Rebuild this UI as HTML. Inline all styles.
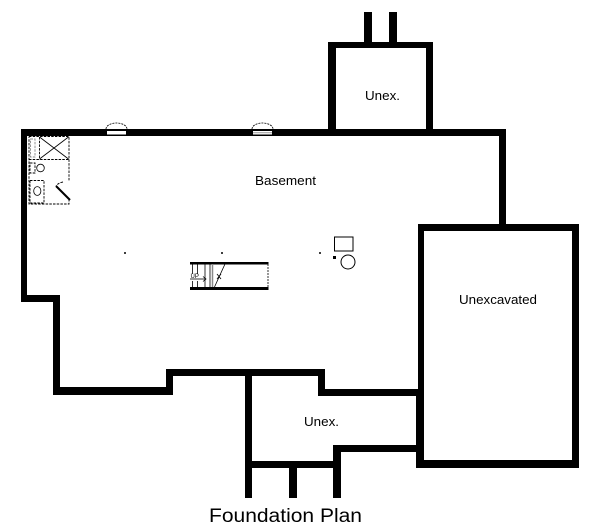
<!DOCTYPE html>
<html>
<head>
<meta charset="utf-8">
<style>
html,body{margin:0;padding:0;background:#fff;}
body{width:600px;height:530px;overflow:hidden;}
svg{display:block;}
text{font-family:"Liberation Sans",Arial,sans-serif;fill:#000;}
</style>
</head>
<body>
<svg width="600" height="530" viewBox="0 0 600 530" xmlns="http://www.w3.org/2000/svg">
<rect width="600" height="530" fill="#fff"/>
<g fill="#000" shape-rendering="crispEdges">
  <!-- main top wall -->
  <rect x="21" y="129" width="485" height="7"/>
  <!-- main left wall -->
  <rect x="21" y="129" width="6" height="173"/>
  <rect x="21" y="295" width="39" height="7"/>
  <rect x="53" y="295" width="7" height="100"/>
  <rect x="53" y="387" width="120" height="8"/>
  <rect x="166" y="369" width="7" height="26"/>
  <rect x="166" y="369" width="159" height="7"/>
  <rect x="318" y="369" width="7" height="27"/>
  <rect x="318" y="389" width="106" height="7"/>
  <!-- lower unex -->
  <rect x="245" y="369" width="7" height="129"/>
  <rect x="245" y="461" width="96" height="7"/>
  <rect x="289" y="461" width="8" height="37"/>
  <rect x="333" y="445" width="8" height="53"/>
  <rect x="333" y="445" width="91" height="7"/>
  <!-- unexcavated box -->
  <rect x="418" y="224" width="161" height="7"/>
  <rect x="418" y="224" width="6" height="244"/>
  <rect x="416" y="389" width="8" height="79"/>
  <rect x="572" y="224" width="7" height="244"/>
  <rect x="416" y="460" width="163" height="8"/>
  <!-- main right wall -->
  <rect x="499" y="129" width="7" height="102"/>
  <!-- top unex -->
  <rect x="328" y="42" width="8" height="94"/>
  <rect x="426" y="42" width="7" height="94"/>
  <rect x="328" y="42" width="105" height="6"/>
  <rect x="364" y="12" width="8" height="36"/>
  <rect x="389" y="12" width="8" height="36"/>
</g>
<!-- windows -->
<g>
  <rect x="107" y="131" width="19" height="3.5" fill="#fff"/>
  <path d="M106,129 A10.5,6 0 0 1 127,129" fill="none" stroke="#000" stroke-width="0.8" stroke-dasharray="2,1"/>
  <rect x="253" y="131" width="19" height="3.5" fill="#fff"/>
  <line x1="253" y1="132.8" x2="272" y2="132.8" stroke="#999" stroke-width="1"/>
  <path d="M252,129 A10.5,6 0 0 1 273,129" fill="none" stroke="#000" stroke-width="0.8" stroke-dasharray="2,1"/>
</g>
<!-- bathroom -->
<g fill="none" stroke="#000" stroke-width="0.9" stroke-dasharray="2.5,1.2">
  <path d="M29,136.5 L69,136.5 L69,181"/>
  <path d="M69,199 L69,204 L29,204 L29,136.5"/>
  <line x1="29" y1="159.5" x2="69" y2="159.5"/>
  <line x1="39.5" y1="137" x2="39.5" y2="159.5"/>
  <rect x="30.5" y="139" width="4.5" height="18" stroke="#888"/>
  <rect x="30" y="163" width="5" height="10"/>
  <rect x="30" y="180.5" width="14" height="22.5"/>
  <path d="M63,182 Q58,183 56,186"/>
</g>
<g fill="none" stroke="#000" stroke-width="0.8">
  <line x1="39.5" y1="137" x2="68.5" y2="159"/>
  <line x1="39.5" y1="159" x2="68.5" y2="137"/>
  <circle cx="40.5" cy="168" r="3.8"/>
  <ellipse cx="37.3" cy="191" rx="3.6" ry="4.4"/>
  <line x1="56" y1="186" x2="70" y2="200" stroke-width="2"/>
</g>
<!-- stairs -->
<g>
  <rect x="190" y="262" width="78.5" height="2.5" fill="#000"/>
  <rect x="190" y="287" width="78.5" height="3" fill="#000"/>
  <line x1="268" y1="264" x2="268" y2="288" stroke="#000" stroke-width="0.8" stroke-dasharray="2,1"/>
  <g stroke="#000" stroke-width="0.8">
    <line x1="192.5" y1="264" x2="192.5" y2="274"/>
    <line x1="192.5" y1="281" x2="192.5" y2="287"/>
    <line x1="197.5" y1="264" x2="197.5" y2="274"/>
    <line x1="197.5" y1="281" x2="197.5" y2="287"/>
    <line x1="205" y1="264" x2="205" y2="287"/>
    <line x1="210" y1="264" x2="210" y2="287"/>
    <line x1="212.5" y1="264" x2="212.5" y2="287" stroke="#888" stroke-width="1.5"/>
    <line x1="214.5" y1="287" x2="225" y2="264"/>
    <line x1="190" y1="279" x2="206" y2="279"/>
    <polyline points="203,276.5 206,279 203,281.5" fill="none"/>
    <line x1="217" y1="274" x2="221" y2="279"/>
    <line x1="217" y1="279" x2="221" y2="274"/>
  </g>
  <text x="190.5" y="278" font-size="6">UP</text>
</g>
<!-- misc points and fixtures -->
<g fill="#000">
  <circle cx="125" cy="253" r="1"/>
  <circle cx="222" cy="253" r="1"/>
  <circle cx="320" cy="253" r="1"/>
  <rect x="333" y="256" width="3" height="3"/>
</g>
<rect x="334.5" y="237" width="18.5" height="14" fill="none" stroke="#000" stroke-width="1"/>
<circle cx="348" cy="262" r="7" fill="none" stroke="#000" stroke-width="1"/>
<!-- labels -->
<text x="255" y="185" font-size="13" textLength="61" lengthAdjust="spacingAndGlyphs">Basement</text>
<text x="365" y="100" font-size="13" textLength="35" lengthAdjust="spacingAndGlyphs">Unex.</text>
<text x="459" y="304" font-size="13" textLength="78" lengthAdjust="spacingAndGlyphs">Unexcavated</text>
<text x="304" y="426" font-size="13" textLength="35" lengthAdjust="spacingAndGlyphs">Unex.</text>
<text x="209" y="522" font-size="19" textLength="153" lengthAdjust="spacingAndGlyphs">Foundation Plan</text>
</svg>
</body>
</html>
